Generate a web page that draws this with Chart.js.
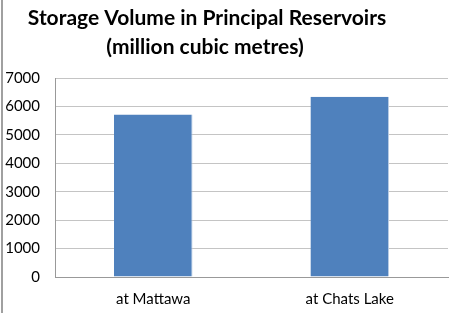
<!DOCTYPE html>
<html><head><meta charset="utf-8">
<script src="https://cdn.jsdelivr.net/npm/chart.js@4/dist/chart.umd.min.js"></script>
<style>
html,body{margin:0;padding:0;background:#fff;}
#wrap{position:relative;width:471px;height:313px;}
#frame{position:absolute;left:1px;top:0;width:2px;height:313px;background:#a0a0a0;}
canvas{display:block;}
</style></head>
<body>
<div id="wrap"><canvas id="c" width="471" height="313"></canvas><div id="frame"></div></div>
<script>
const categories = ["at Mattawa", "at Chats Lake"];
const storageVolume = [5720, 6340];
const titleLines = ["Storage Volume in Principal Reservoirs", "(million cubic metres)"];
const yTicks = [0, 1000, 2000, 3000, 4000, 5000, 6000, 7000];

const FONT = "Lato, 'Open Sans', sans-serif";

const titlePlugin = {
  id: 'offsetTitle',
  afterDraw(chart) {
    const ctx = chart.ctx;
    ctx.save();
    ctx.fillStyle = '#000';
    ctx.font = "bold 21px " + FONT;
    ctx.textAlign = 'center';
    ctx.textBaseline = 'middle';
    ctx.fillText(titleLines[0], 207, 18);
    ctx.fillText(titleLines[1], 205, 47);
    ctx.restore();
  }
};

new Chart(document.getElementById('c'), {
  type: 'bar',
  data: {
    labels: categories,
    datasets: [{
      data: storageVolume,
      backgroundColor: '#4f81bd',
      borderColor: '#b9cde5',
      borderWidth: {left: 0, right: 1, top: 0, bottom: 0},
      borderSkipped: false,
      barPercentage: 0.4,
      categoryPercentage: 1.0
    }]
  },
  options: {
    responsive: false,
    animation: false,
    devicePixelRatio: 1,
    layout: {padding: {left: 0, right: 23, top: 78, bottom: 0}},
    plugins: {legend: {display: false}, title: {display: false}, tooltip: {enabled: false}},
    scales: {
      x: {
        grid: {display: false, drawTicks: false},
        border: {display: true, color: '#999999', width: 1},
        ticks: {color: '#000', font: {family: FONT, size: 15}, padding: 13},
        afterFit(s) { s.height = 36; }
      },
      y: {
        min: 0, max: 7000,
        afterBuildTicks(s) { s.ticks = yTicks.map(v => ({value: v})); },
        grid: {color: '#c4c4c4', drawTicks: false},
        border: {display: true, color: '#999999', width: 1},
        ticks: {color: '#000', font: {family: FONT, size: 15}, padding: 15, callback: v => String(v)},
        afterFit(s) { s.width = 55; }
      }
    }
  },
  plugins: [titlePlugin]
});
</script>
</body></html>
